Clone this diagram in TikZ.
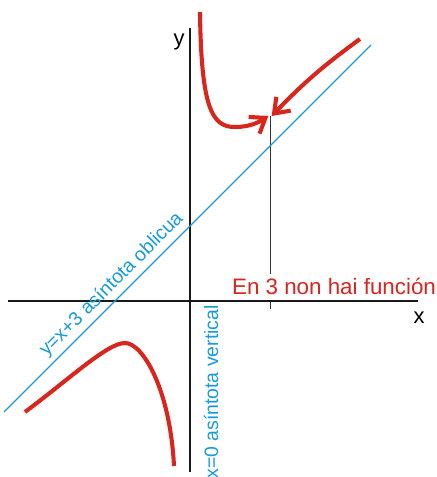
\documentclass[tikz,border=0pt]{standalone}
\usepackage{fontspec}
\setmainfont{Liberation Sans}
\usetikzlibrary{arrows.meta}
\definecolor{vermello}{RGB}{218,37,29}
\definecolor{azul}{RGB}{20,155,220}

\begin{document}
\begin{tikzpicture}[x=0.625cm, y=0.625cm,
    eixo/.style={line width=1.4pt, black!90},
    curva/.style={line width=2.9pt, vermello},
    frecha/.style={curva, -{Straight Barb[length=0.34cm, width=0.5cm]}},
    asintota/.style={line width=0.9pt, azul},
    etiqueta/.style={text=azul, font=\fontsize{13.8}{16}\selectfont, inner sep=0pt}]
    \useasboundingbox (-7.6,-7.04) rectangle (9.84,12.04);

    \coordinate (Xi) at (-7.28,0);
    \coordinate (Xf) at (9.12,0);
    \coordinate (Yi) at (0,-6.84);
    \coordinate (Yf) at (0,10.92);
    \coordinate (Ai) at (-7.44,-4.44);
    \coordinate (Af) at (7.24,10.24);
    \coordinate (P) at (3.2,7.4);
    \coordinate (Pb) at (3.2,-0.32);
    \coordinate (F) at (6.8,10.48);

    \draw[line width=0.7pt, black!80] (P) -- (Pb);
    \node[anchor=base, fill=white, inner sep=3.5pt, text=vermello,
          font=\fontsize{15.9}{18}\selectfont] (hueco) at (5.76,0.24) {En 3 non hai función};

    \draw[eixo] (Xi) -- (Xf);
    \draw[eixo] (Yi) -- (Yf);
    \node[font=\fontsize{15.6}{18}\selectfont] (ylab) at (-0.44,10.36) {y};
    \node[font=\fontsize{15.6}{18}\selectfont] (xlab) at (9.16,-0.66) {x};

    \draw[asintota] (Ai) -- (Af);
    \node[etiqueta, rotate=45, anchor=base] (oblicua) at (-2.99,0.51) {y=x+3 asíntota oblicua};
    \node[etiqueta, rotate=90, anchor=base] (vertical) at (1.12,-3.64) {x=0 asíntota vertical};

    \draw[frecha] (0.4,11.56) .. controls (0.45,7.8) and (0.85,6.95) .. (1.8,6.96)
        .. controls (2.4,6.96) and (2.75,7.15) .. ([xshift=-1.2pt]P);
    \draw[frecha] (F) to[bend right=5] ([xshift=1.2pt]P);
    \draw[curva] (-6.6,-4.44) .. controls (-4.8,-3.1) and (-3.3,-1.68) .. (-2.6,-1.68)
        .. controls (-1.9,-1.68) and (-0.8,-3.5) .. (-0.64,-6.6);
\end{tikzpicture}
\end{document}
